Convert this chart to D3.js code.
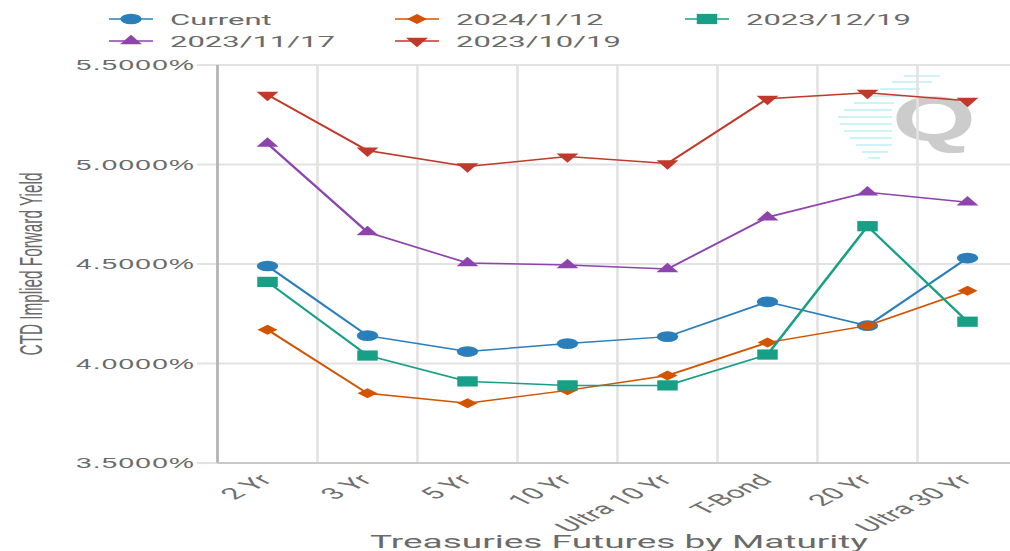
<!DOCTYPE html>
<html>
<head>
<meta charset="utf-8">
<script src="https://cdn.jsdelivr.net/npm/d3@7"></script>
<style>
  html, body { margin: 0; padding: 0; background: #fff; }
  svg { display: block; }
</style>
</head>
<body>
<div id="chart"></div>
<script>
// values
const categories = ['2 Yr', '3 Yr', '5 Yr', '10 Yr', 'Ultra 10 Yr', 'T-Bond', '20 Yr', 'Ultra 30 Yr'];
const current = [4.49, 4.14, 4.06, 4.10, 4.135, 4.31, 4.19, 4.53];
const jan12 = [4.17, 3.85, 3.80, 3.865, 3.94, 4.105, 4.19, 4.365];
const dec19 = [4.41, 4.04, 3.91, 3.89, 3.89, 4.045, 4.69, 4.21];
const nov17 = [5.105, 4.66, 4.505, 4.495, 4.475, 4.735, 4.86, 4.81];
const oct19 = [5.35, 5.07, 4.99, 5.04, 5.005, 5.33, 5.36, 5.32];
const yTicks = [3.5, 4.0, 4.5, 5.0, 5.5];

const series = [
    { name: 'Current', values: current, color: '#2a7fba', symbol: d3.symbolCircle, size: 90, rot: 0 },
    { name: '2024/1/12', values: jan12, color: '#d35400', symbol: d3.symbolSquare, size: 50, rot: 45 },
    { name: '2023/12/19', values: dec19, color: '#17a085', symbol: d3.symbolSquare, size: 105, rot: 0 },
    { name: '2023/11/17', values: nov17, color: '#8e44ad', symbol: d3.symbolTriangle, size: 52, rot: 0 },
    { name: '2023/10/19', values: oct19, color: '#c0392b', symbol: d3.symbolTriangle, size: 52, rot: 180 },
];

// the source picture is stretched sideways, so draw in a narrow space and widen it
const sx = 2;
const width = 1010;
const height = 551;
const left = 108.75;
const band = 50;

const svg = d3.select('#chart')
    .append('svg')
    .attr('width', width)
    .attr('height', height);

const g = svg.append('g').attr('transform', `scale(${sx},1)`);

const x = d3.scaleBand()
    .domain(categories)
    .range([left, left + band * categories.length]);

const y = d3.scaleLinear()
    .domain([3.5, 5.5])
    .range([463, 65]);

// watermark
const wm = g.append('g');
const stripes = [
    [452, 470, 76], [446, 466, 82], [440, 460, 89], [433, 452, 96], [427, 447, 103],
    [422, 446, 110], [419, 446, 117], [420, 446, 124], [422, 446, 131], [425, 446, 138],
    [428, 446, 145], [431, 444, 152], [434, 440, 158]
];
wm.selectAll('line')
    .data(stripes)
    .enter()
    .append('line')
    .attr('x1', (d) => d[0])
    .attr('x2', (d) => d[1])
    .attr('y1', (d) => d[2])
    .attr('y2', (d) => d[2])
    .style('stroke', '#cdf2f8')
    .style('stroke-width', 2);
wm.append('text')
    .attr('x', 446)
    .attr('y', 140)
    .attr('textLength', 42)
    .attr('lengthAdjust', 'spacingAndGlyphs')
    .style('font-family', 'Liberation Sans, Arial, sans-serif')
    .style('font-weight', 'bold')
    .style('font-size', '62px')
    .style('fill', '#cccccc')
    .text('Q');

// grid
g.selectAll('.hgrid')
    .data(yTicks)
    .enter()
    .append('line')
    .attr('x1', 98.5)
    .attr('x2', width / sx)
    .attr('y1', (d) => y(d))
    .attr('y2', (d) => y(d))
    .style('stroke', '#e2e2e2')
    .style('stroke-width', 2);

g.selectAll('.vgrid')
    .data(categories.slice(1))
    .enter()
    .append('line')
    .attr('x1', (d) => x(d))
    .attr('x2', (d) => x(d))
    .attr('y1', y(5.5))
    .attr('y2', y(3.5))
    .style('stroke', '#e2e2e2')
    .style('stroke-width', 1.3);

// axis lines
g.append('line')
    .attr('x1', left).attr('x2', left)
    .attr('y1', y(5.5)).attr('y2', y(3.5))
    .style('stroke', '#b5b5b5')
    .style('stroke-width', 1.4);
g.append('line')
    .attr('x1', left).attr('x2', width / sx)
    .attr('y1', y(3.5)).attr('y2', y(3.5))
    .style('stroke', '#c8c8c8')
    .style('stroke-width', 2);

// y tick labels
g.selectAll('.ylab')
    .data(yTicks)
    .enter()
    .append('text')
    .attr('x', 97.5)
    .attr('y', (d) => y(d))
    .attr('dy', '0.36em')
    .style('text-anchor', 'end')
    .style('font-family', 'Liberation Sans, Arial, sans-serif')
    .style('font-size', '14px')
    .style('letter-spacing', '0.6px')
    .style('fill', '#6a6a6a')
    .text((d) => d3.format('.4f')(d) + '%');

// x tick labels
g.selectAll('.xlab')
    .data(categories)
    .enter()
    .append('text')
    .attr('transform', (d) => `translate(${x(d) + band / 2 + 3},481) rotate(-45)`)
    .style('text-anchor', 'end')
    .style('font-family', 'Roboto, sans-serif')
    .style('font-size', '16px')
    .style('fill', '#707070')
    .text((d) => d);

// axis titles
g.append('text')
    .attr('transform', 'translate(21,264) rotate(-90)')
    .style('text-anchor', 'middle')
    .style('font-family', 'Liberation Sans, Arial, sans-serif')
    .style('font-size', '15.3px')
    .style('fill', '#6a6a6a')
    .text('CTD Implied Forward Yield');

g.append('text')
    .attr('x', 309.5)
    .attr('y', 548)
    .style('text-anchor', 'middle')
    .style('font-family', 'Roboto, sans-serif')
    .style('font-size', '18.5px')
    .style('fill', '#6a6a6a')
    .text('Treasuries Futures by Maturity');

// lines and markers
const line = d3.line()
    .x((d, i) => x(categories[i]) + band / 2)
    .y((d) => y(d));

series.forEach((s) => {
    const sg = g.append('g');
    sg.append('path')
        .attr('d', line(s.values))
        .style('fill', 'none')
        .style('stroke', s.color)
        .style('stroke-width', 1.5);
    sg.selectAll('path.pt')
        .data(s.values)
        .enter()
        .append('path')
        .attr('class', 'pt')
        .attr('d', d3.symbol().type(s.symbol).size(s.size))
        .attr('transform', (d, i) => `translate(${x(categories[i]) + band / 2},${y(d)}) rotate(${s.rot})`)
        .style('fill', s.color);
});

// legend
const legendPos = [[65.5, 19], [208.5, 19], [353.5, 19], [65.5, 41], [208.5, 41]];
const lg = g.selectAll('.legend')
    .data(series)
    .enter()
    .append('g')
    .attr('transform', (d, i) => `translate(${legendPos[i][0]},${legendPos[i][1]})`);
lg.append('line')
    .attr('x1', -11).attr('x2', 11)
    .style('stroke', (d) => d.color)
    .style('stroke-width', 1.5);
lg.append('path')
    .attr('d', (d) => d3.symbol().type(d.symbol).size(d.size)())
    .attr('transform', (d) => `rotate(${d.rot})`)
    .style('fill', (d) => d.color);
lg.append('text')
    .attr('x', 19.5)
    .attr('dy', '0.36em')
    .style('font-family', 'Roboto, sans-serif')
    .style('font-size', '15.5px')
    .style('fill', '#6a6a6a')
    .text((d) => d.name);
</script>
</body>
</html>
